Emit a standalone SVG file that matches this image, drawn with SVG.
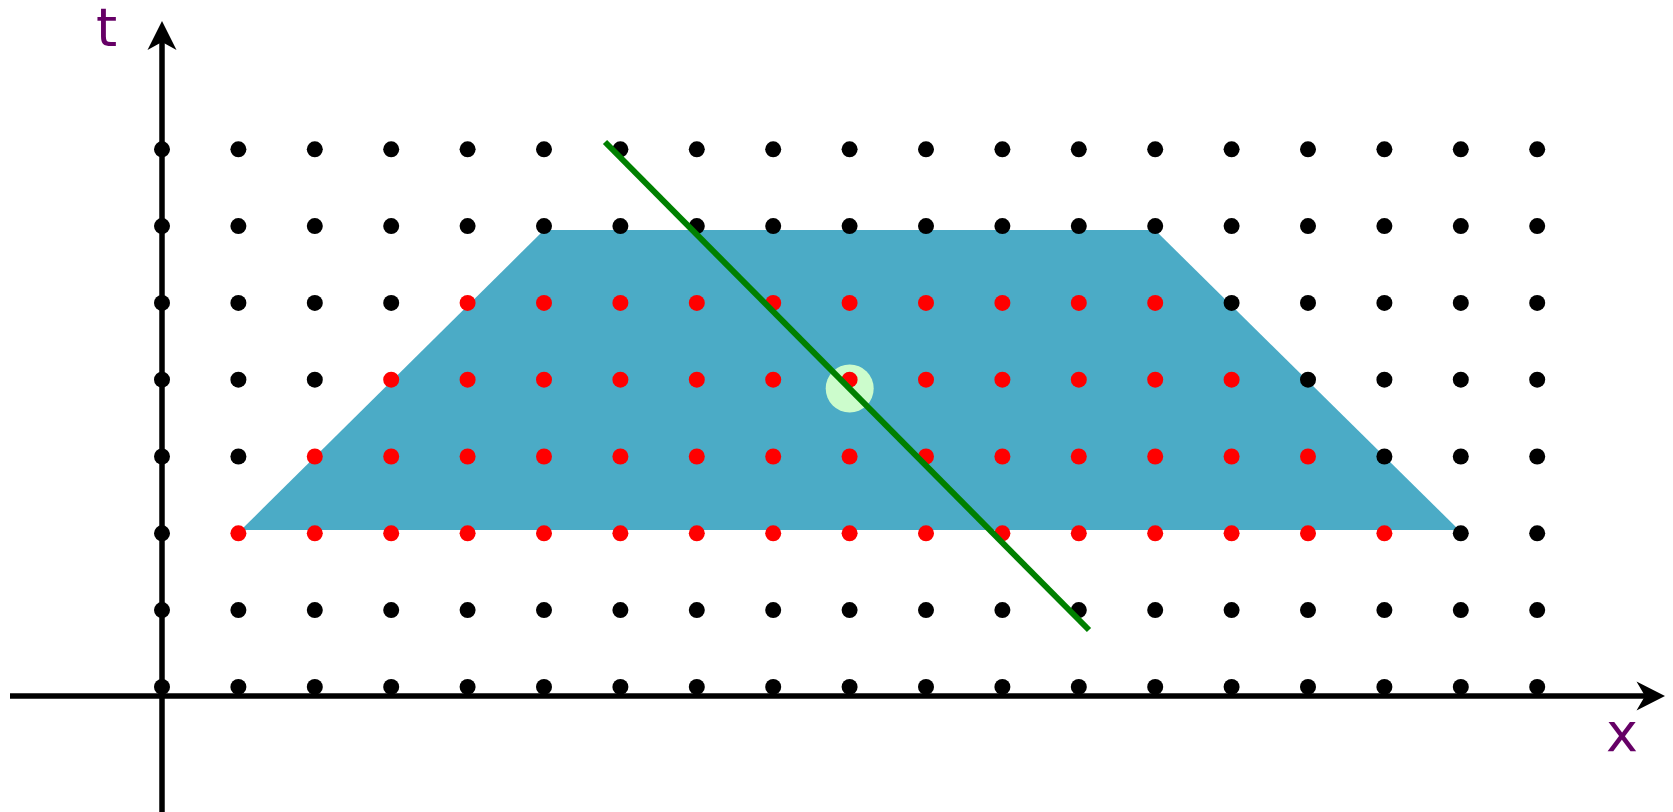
<svg xmlns="http://www.w3.org/2000/svg" width="1673" height="812" viewBox="0 0 1673 812">
<style>
.k{fill:#000}
.r{fill:#ff0000}
.ax{stroke:#000;stroke-width:5.5;fill:none}
.ah{fill:#000}
.lbl{font-family:"DejaVu Sans",sans-serif;font-size:54px;fill:#660066}
</style>
<rect width="1673" height="812" fill="#fff"/>
<g id="region">
<polygon points="241,530 544,230 1155,230 1459,530" fill="#4babc6"/>
</g>
<g id="highlight">
<circle cx="849.7" cy="388.5" r="24" fill="#ccfccc"/>
</g>
<g id="axes">
<line class="ax" x1="10" y1="696" x2="1650" y2="696"/>
<path class="ah" d="M1665,696 L1636.5,681.5 L1645,696 L1636.5,710.5 Z"/>
<line class="ax" x1="162" y1="812" x2="162" y2="36"/>
<path class="ah" d="M162,21 L147.5,50 L162,42 L176.5,50 Z"/>
</g>
<g id="labels">
<text class="lbl" x="96" y="46">t</text>
<text class="lbl" x="1606" y="751">x</text>
</g>
<g id="grid">
<g id="row0">
<circle class="k" cx="162" cy="149.3" r="8"/><circle class="k" cx="238.4" cy="149.3" r="8"/><circle class="k" cx="314.8" cy="149.3" r="8"/><circle class="k" cx="391.2" cy="149.3" r="8"/><circle class="k" cx="467.6" cy="149.3" r="8"/><circle class="k" cx="544" cy="149.3" r="8"/><circle class="k" cx="620.4" cy="149.3" r="8"/><circle class="k" cx="696.8" cy="149.3" r="8"/><circle class="k" cx="773.2" cy="149.3" r="8"/><circle class="k" cx="849.6" cy="149.3" r="8"/><circle class="k" cx="926" cy="149.3" r="8"/><circle class="k" cx="1002.4" cy="149.3" r="8"/><circle class="k" cx="1078.8" cy="149.3" r="8"/><circle class="k" cx="1155.2" cy="149.3" r="8"/><circle class="k" cx="1231.6" cy="149.3" r="8"/><circle class="k" cx="1308" cy="149.3" r="8"/><circle class="k" cx="1384.4" cy="149.3" r="8"/><circle class="k" cx="1460.8" cy="149.3" r="8"/><circle class="k" cx="1537.2" cy="149.3" r="8"/>
</g>
<g id="row1">
<circle class="k" cx="162" cy="226.1" r="8"/><circle class="k" cx="238.4" cy="226.1" r="8"/><circle class="k" cx="314.8" cy="226.1" r="8"/><circle class="k" cx="391.2" cy="226.1" r="8"/><circle class="k" cx="467.6" cy="226.1" r="8"/><circle class="k" cx="544" cy="226.1" r="8"/><circle class="k" cx="620.4" cy="226.1" r="8"/><circle class="k" cx="696.8" cy="226.1" r="8"/><circle class="k" cx="773.2" cy="226.1" r="8"/><circle class="k" cx="849.6" cy="226.1" r="8"/><circle class="k" cx="926" cy="226.1" r="8"/><circle class="k" cx="1002.4" cy="226.1" r="8"/><circle class="k" cx="1078.8" cy="226.1" r="8"/><circle class="k" cx="1155.2" cy="226.1" r="8"/><circle class="k" cx="1231.6" cy="226.1" r="8"/><circle class="k" cx="1308" cy="226.1" r="8"/><circle class="k" cx="1384.4" cy="226.1" r="8"/><circle class="k" cx="1460.8" cy="226.1" r="8"/><circle class="k" cx="1537.2" cy="226.1" r="8"/>
</g>
<g id="row2">
<circle class="k" cx="162" cy="302.9" r="8"/><circle class="k" cx="238.4" cy="302.9" r="8"/><circle class="k" cx="314.8" cy="302.9" r="8"/><circle class="k" cx="391.2" cy="302.9" r="8"/><circle class="r" cx="467.6" cy="302.9" r="8"/><circle class="r" cx="544" cy="302.9" r="8"/><circle class="r" cx="620.4" cy="302.9" r="8"/><circle class="r" cx="696.8" cy="302.9" r="8"/><circle class="r" cx="773.2" cy="302.9" r="8"/><circle class="r" cx="849.6" cy="302.9" r="8"/><circle class="r" cx="926" cy="302.9" r="8"/><circle class="r" cx="1002.4" cy="302.9" r="8"/><circle class="r" cx="1078.8" cy="302.9" r="8"/><circle class="r" cx="1155.2" cy="302.9" r="8"/><circle class="k" cx="1231.6" cy="302.9" r="8"/><circle class="k" cx="1308" cy="302.9" r="8"/><circle class="k" cx="1384.4" cy="302.9" r="8"/><circle class="k" cx="1460.8" cy="302.9" r="8"/><circle class="k" cx="1537.2" cy="302.9" r="8"/>
</g>
<g id="row3">
<circle class="k" cx="162" cy="379.7" r="8"/><circle class="k" cx="238.4" cy="379.7" r="8"/><circle class="k" cx="314.8" cy="379.7" r="8"/><circle class="r" cx="391.2" cy="379.7" r="8"/><circle class="r" cx="467.6" cy="379.7" r="8"/><circle class="r" cx="544" cy="379.7" r="8"/><circle class="r" cx="620.4" cy="379.7" r="8"/><circle class="r" cx="696.8" cy="379.7" r="8"/><circle class="r" cx="773.2" cy="379.7" r="8"/><circle class="r" cx="849.6" cy="379.7" r="8"/><circle class="r" cx="926" cy="379.7" r="8"/><circle class="r" cx="1002.4" cy="379.7" r="8"/><circle class="r" cx="1078.8" cy="379.7" r="8"/><circle class="r" cx="1155.2" cy="379.7" r="8"/><circle class="r" cx="1231.6" cy="379.7" r="8"/><circle class="k" cx="1308" cy="379.7" r="8"/><circle class="k" cx="1384.4" cy="379.7" r="8"/><circle class="k" cx="1460.8" cy="379.7" r="8"/><circle class="k" cx="1537.2" cy="379.7" r="8"/>
</g>
<g id="row4">
<circle class="k" cx="162" cy="456.5" r="8"/><circle class="k" cx="238.4" cy="456.5" r="8"/><circle class="r" cx="314.8" cy="456.5" r="8"/><circle class="r" cx="391.2" cy="456.5" r="8"/><circle class="r" cx="467.6" cy="456.5" r="8"/><circle class="r" cx="544" cy="456.5" r="8"/><circle class="r" cx="620.4" cy="456.5" r="8"/><circle class="r" cx="696.8" cy="456.5" r="8"/><circle class="r" cx="773.2" cy="456.5" r="8"/><circle class="r" cx="849.6" cy="456.5" r="8"/><circle class="r" cx="926" cy="456.5" r="8"/><circle class="r" cx="1002.4" cy="456.5" r="8"/><circle class="r" cx="1078.8" cy="456.5" r="8"/><circle class="r" cx="1155.2" cy="456.5" r="8"/><circle class="r" cx="1231.6" cy="456.5" r="8"/><circle class="r" cx="1308" cy="456.5" r="8"/><circle class="k" cx="1384.4" cy="456.5" r="8"/><circle class="k" cx="1460.8" cy="456.5" r="8"/><circle class="k" cx="1537.2" cy="456.5" r="8"/>
</g>
<g id="row5">
<circle class="k" cx="162" cy="533.3" r="8"/><circle class="r" cx="238.4" cy="533.3" r="8"/><circle class="r" cx="314.8" cy="533.3" r="8"/><circle class="r" cx="391.2" cy="533.3" r="8"/><circle class="r" cx="467.6" cy="533.3" r="8"/><circle class="r" cx="544" cy="533.3" r="8"/><circle class="r" cx="620.4" cy="533.3" r="8"/><circle class="r" cx="696.8" cy="533.3" r="8"/><circle class="r" cx="773.2" cy="533.3" r="8"/><circle class="r" cx="849.6" cy="533.3" r="8"/><circle class="r" cx="926" cy="533.3" r="8"/><circle class="r" cx="1002.4" cy="533.3" r="8"/><circle class="r" cx="1078.8" cy="533.3" r="8"/><circle class="r" cx="1155.2" cy="533.3" r="8"/><circle class="r" cx="1231.6" cy="533.3" r="8"/><circle class="r" cx="1308" cy="533.3" r="8"/><circle class="r" cx="1384.4" cy="533.3" r="8"/><circle class="k" cx="1460.8" cy="533.3" r="8"/><circle class="k" cx="1537.2" cy="533.3" r="8"/>
</g>
<g id="row6">
<circle class="k" cx="162" cy="610.1" r="8"/><circle class="k" cx="238.4" cy="610.1" r="8"/><circle class="k" cx="314.8" cy="610.1" r="8"/><circle class="k" cx="391.2" cy="610.1" r="8"/><circle class="k" cx="467.6" cy="610.1" r="8"/><circle class="k" cx="544" cy="610.1" r="8"/><circle class="k" cx="620.4" cy="610.1" r="8"/><circle class="k" cx="696.8" cy="610.1" r="8"/><circle class="k" cx="773.2" cy="610.1" r="8"/><circle class="k" cx="849.6" cy="610.1" r="8"/><circle class="k" cx="926" cy="610.1" r="8"/><circle class="k" cx="1002.4" cy="610.1" r="8"/><circle class="k" cx="1078.8" cy="610.1" r="8"/><circle class="k" cx="1155.2" cy="610.1" r="8"/><circle class="k" cx="1231.6" cy="610.1" r="8"/><circle class="k" cx="1308" cy="610.1" r="8"/><circle class="k" cx="1384.4" cy="610.1" r="8"/><circle class="k" cx="1460.8" cy="610.1" r="8"/><circle class="k" cx="1537.2" cy="610.1" r="8"/>
</g>
<g id="row7">
<circle class="k" cx="162" cy="686.9" r="8"/><circle class="k" cx="238.4" cy="686.9" r="8"/><circle class="k" cx="314.8" cy="686.9" r="8"/><circle class="k" cx="391.2" cy="686.9" r="8"/><circle class="k" cx="467.6" cy="686.9" r="8"/><circle class="k" cx="544" cy="686.9" r="8"/><circle class="k" cx="620.4" cy="686.9" r="8"/><circle class="k" cx="696.8" cy="686.9" r="8"/><circle class="k" cx="773.2" cy="686.9" r="8"/><circle class="k" cx="849.6" cy="686.9" r="8"/><circle class="k" cx="926" cy="686.9" r="8"/><circle class="k" cx="1002.4" cy="686.9" r="8"/><circle class="k" cx="1078.8" cy="686.9" r="8"/><circle class="k" cx="1155.2" cy="686.9" r="8"/><circle class="k" cx="1231.6" cy="686.9" r="8"/><circle class="k" cx="1308" cy="686.9" r="8"/><circle class="k" cx="1384.4" cy="686.9" r="8"/><circle class="k" cx="1460.8" cy="686.9" r="8"/><circle class="k" cx="1537.2" cy="686.9" r="8"/>
</g>
</g>
<g id="connectors">
<line x1="605" y1="142" x2="1089" y2="630" stroke="#008000" stroke-width="6"/>
</g>
</svg>
